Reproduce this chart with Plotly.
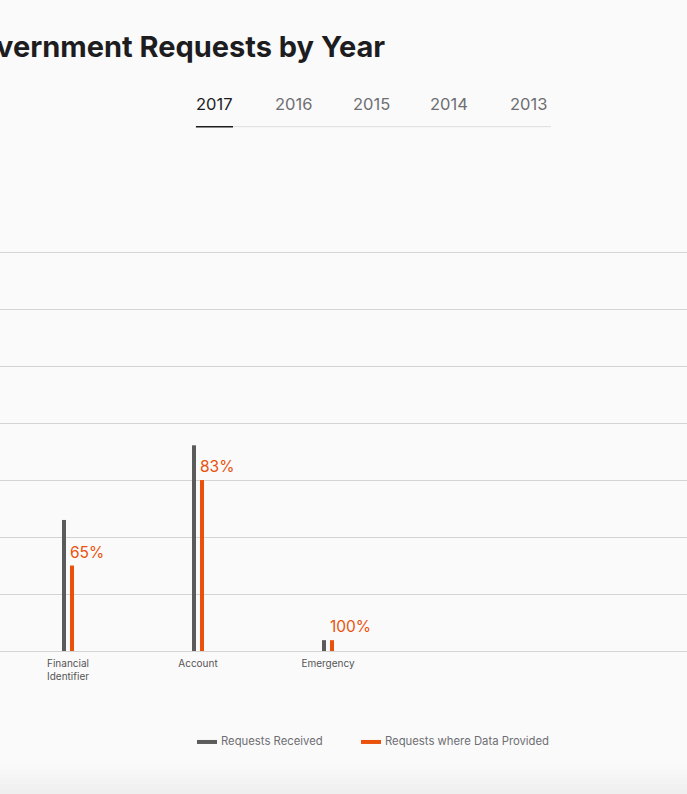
import plotly.graph_objects as go

# ---- data ----
categories = ["Financial<br>Identifier", "Account", "Emergency"]
requests_received = [230, 361, 19]
requests_provided = [150, 300, 19]
years = ["2017", "2016", "2015", "2014", "2013"]
series_names = ["Requests Received", "Requests where Data Provided"]

W, H = 687, 794
BASE = 651                    # baseline px
UNIT_PX = 0.57                # px per data unit (57 px per 100)
Y_MAX = 702
TOP = BASE - Y_MAX * UNIT_PX  # plot area top px
GRAY = "#5b5b5b"
ORANGE = "#ea520c"
BG = "#fafafa"
FONT = "Inter, 'Noto Sans', Arial, sans-serif"

PX_PER_CAT = 130.0
FIRST_CAT_PX = 68.0
bar_w = 4 / PX_PER_CAT
xs = list(range(len(categories)))


def py(p):
    """pixel y -> paper y"""
    return (BASE - p) / (BASE - TOP)


def px(p):
    return p / W


fig = go.Figure()
fig.add_trace(go.Bar(x=xs, y=requests_received, name=series_names[0],
                     marker=dict(color=GRAY, line=dict(width=0)),
                     width=bar_w, offset=-6 / PX_PER_CAT, hoverinfo="skip"))
fig.add_trace(go.Bar(x=xs, y=requests_provided, name=series_names[1],
                     marker=dict(color=ORANGE, line=dict(width=0)),
                     width=bar_w, offset=2 / PX_PER_CAT, hoverinfo="skip"))

annotations = []
# percentage labels
for i, (r, p) in enumerate(zip(requests_received, requests_provided)):
    pct = round(100 * p / r)
    annotations.append(dict(x=i + 2 / PX_PER_CAT, y=p, xref="x", yref="y",
                            text=f"{pct}%", showarrow=False, xanchor="left",
                            yanchor="bottom", yshift=2, xshift=-2,
                            font=dict(family=FONT, size=15.5, color=ORANGE)))

# title (cut off at left edge, as in the source page)
annotations.append(dict(x=px(387), y=py(46), xref="paper", yref="paper",
                        text="Government Requests by Year", showarrow=False,
                        xanchor="right", yanchor="middle",
                        font=dict(family=FONT, size=29, color="#1d1d1f", weight=700)))

# year tabs
tab_centers = [214.5, 293, 371.5, 449.5, 528.5]
for yr, c in zip(years, tab_centers):
    annotations.append(dict(x=px(c), y=py(104), xref="paper", yref="paper",
                            text=yr, showarrow=False, xanchor="center", yanchor="middle",
                            font=dict(family=FONT, size=16.5,
                                      color="#1d1d1f" if yr == "2017" else "#6e6e73")))

shapes = [
    dict(type="line", xref="paper", yref="paper", x0=px(195), x1=px(551),
         y0=py(126.5), y1=py(126.5), line=dict(color="#dedede", width=1)),
    dict(type="line", xref="paper", yref="paper", x0=px(196), x1=px(233),
         y0=py(126.5), y1=py(126.5), line=dict(color="#1d1d1f", width=1.5)),
]

# legend
legend_items = [(197, GRAY, series_names[0]), (361, ORANGE, series_names[1])]
for x0, col, name in legend_items:
    shapes.append(dict(type="line", xref="paper", yref="paper", x0=px(x0), x1=px(x0 + 20),
                       y0=py(742), y1=py(742), line=dict(color=col, width=4)))
    annotations.append(dict(x=px(x0 + 22), y=py(741.5), xref="paper", yref="paper",
                            text=name, showarrow=False, xanchor="left", yanchor="middle",
                            font=dict(family=FONT, size=11.3, color="#6e6e73")))

# bottom shade
shades = ["#f9f9f9", "#f7f7f7", "#f5f5f5", "#f3f3f3", "#f1f1f1", "#efefef"]
band_top = 764
step = (H - band_top) / len(shades)
for k, c in enumerate(shades):
    shapes.append(dict(type="rect", xref="paper", yref="paper", layer="below",
                       x0=0, x1=1, y0=py(band_top + k * step), y1=py(band_top + (k + 1) * step + 0.5),
                       fillcolor=c, line=dict(width=0)))

fig.update_layout(
    width=W, height=H,
    margin=dict(l=0, r=0, t=TOP, b=H - BASE, pad=0),
    paper_bgcolor=BG, plot_bgcolor=BG,
    barmode="overlay", showlegend=False,
    annotations=annotations, shapes=shapes,
    xaxis=dict(range=[-FIRST_CAT_PX / PX_PER_CAT, (W - FIRST_CAT_PX) / PX_PER_CAT],
               tickvals=xs, ticktext=categories, showgrid=False, zeroline=False,
               showline=False, ticks="", ticklabelstandoff=5,
               tickfont=dict(family=FONT, size=10, color="#555555"),
               fixedrange=True),
    yaxis=dict(range=[0, Y_MAX], dtick=100, showgrid=True, gridcolor="#d4d4d4", gridwidth=1,
               zeroline=True, zerolinecolor="#d4d4d4", zerolinewidth=1,
               showticklabels=False, ticks="", fixedrange=True),
    font=dict(family=FONT),
)

fig.write_html("out.html", config={"displayModeBar": False},
               post_script="document.body.style.margin='0';"
                           "document.body.style.background='#fafafa';"
                           "document.body.style.overflow='hidden';")
